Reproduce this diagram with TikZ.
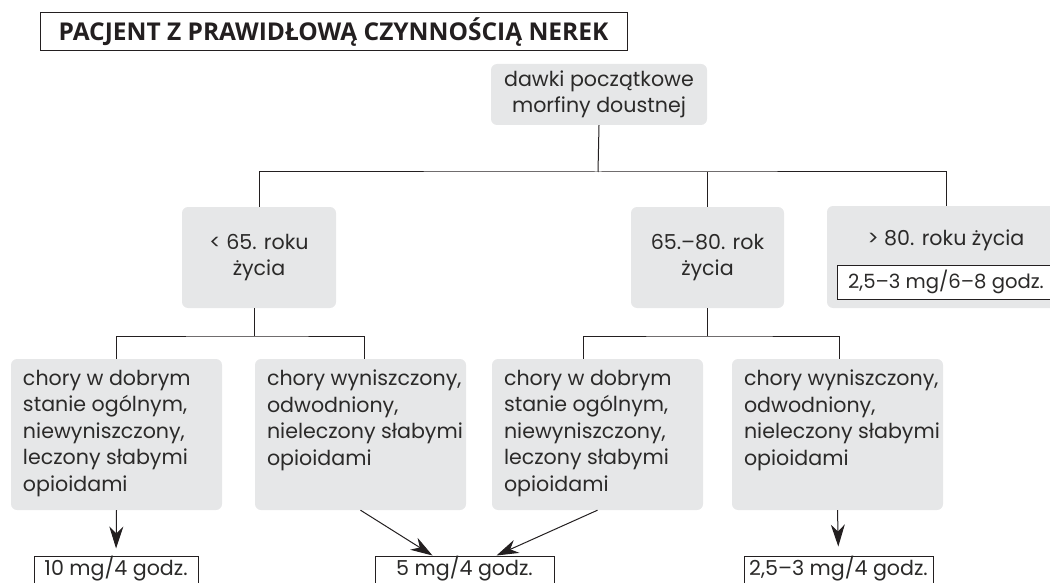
\documentclass[tikz,border=0pt]{standalone}
\usepackage{fontspec}
\setmainfont{Poppins}
\newfontfamily\tytulfont{Open Sans}
\usetikzlibrary{arrows.meta}
\definecolor{szary}{HTML}{E6E7E8}
\definecolor{tekst}{HTML}{2B2A29}
\definecolor{kreska}{HTML}{231F20}
\newcommand{\opis}{\fontsize{20.6}{26.5}\selectfont}

\begin{document}
\begin{tikzpicture}[x=1pt,y=-1pt,
    pole/.style={fill=szary, rounded corners=6pt, text=tekst, font=\opis, align=center, inner sep=0pt},
    tresc/.style={anchor=north west, align=left, text=tekst, font=\opis, inner sep=0pt},
    dawka/.style={draw=kreska, fill=white, line width=1pt, text=tekst, font=\opis, inner sep=0pt},
    linia/.style={draw=kreska, line width=1pt},
    strzalka/.style={linia, -{Stealth[length=22pt,width=14pt,inset=7pt]}}]
    \useasboundingbox (0,0) rectangle (1050,583);
    \clip (0,0) rectangle (1050,583);
    % naglowek
    \node[draw=kreska, line width=1pt, minimum width=587pt, minimum height=38pt, inner sep=0pt,
          text=kreska, font=\tytulfont\bfseries\fontsize{24.5}{28}\selectfont] (tytul) at (333.5,32)
          {PACJENT Z PRAWIDŁOWĄ CZYNNOŚCIĄ NEREK};
    % poziom 1 i 2
    \node[pole, minimum width=216pt, minimum height=61pt] (start) at (599,94.5) {dawki początkowe\\morfiny doustnej};
    \node[pole, minimum width=154pt, minimum height=101pt] (m65) at (259,257.5) {< 65. roku\\życia};
    \node[pole, minimum width=153pt, minimum height=101pt] (m80) at (707.5,257.5) {65.–80. rok\\życia};
    \node[pole, minimum width=238pt, minimum height=102pt] (p80) at (946,257) {};
    \node[text=tekst, font=\opis, inner sep=0pt] (p80t) at (946,240) {> 80. roku życia};
    \node[dawka, minimum width=218pt, minimum height=34pt, font=\fontsize{19.6}{24}\selectfont] (d68) at (946,282) {2,5–3 mg/6–8 godz.};
    % poziom 3
    \node[pole, minimum width=211pt, minimum height=151pt] (b1) at (116.5,434.5) {};
    \node[pole, minimum width=211pt, minimum height=151pt] (b2) at (360.5,434.5) {};
    \node[pole, minimum width=211pt, minimum height=151pt] (b3) at (597.5,434.5) {};
    \node[pole, minimum width=211pt, minimum height=151pt] (b4) at (837.5,434.5) {};
    \node[tresc] (t1) at ([xshift=12pt,yshift=-11pt]b1.north west) {chory w dobrym\\stanie ogólnym,\\niewyniszczony,\\leczony słabymi\\opioidami};
    \node[tresc] (t2) at ([xshift=12pt,yshift=-11pt]b2.north west) {chory wyniszczony,\\odwodniony,\\nieleczony słabymi\\opioidami};
    \node[tresc] (t3) at ([xshift=12pt,yshift=-11pt]b3.north west) {chory w dobrym\\stanie ogólnym,\\niewyniszczony,\\leczony słabymi\\opioidami};
    \node[tresc] (t4) at ([xshift=12pt,yshift=-11pt]b4.north west) {chory wyniszczony,\\odwodniony,\\nieleczony słabymi\\opioidami};
    % dawki
    \node[dawka, minimum width=164pt, minimum height=32pt, text height=15pt, text depth=9pt] (d10) at (116,572) {10 mg/4 godz.};
    \node[dawka, minimum width=179pt, minimum height=32pt, text height=15pt, text depth=9pt] (d5) at (464.5,572) {5 mg/4 godz.};
    \node[dawka, minimum width=189pt, minimum height=32pt, text height=15pt, text depth=9pt] (d25) at (838.5,572) {2,5–3 mg/4 godz.};
    % linie
    \coordinate (r1) at (598,172);
    \draw[linia] (start.south) -- (r1);
    \draw[linia] (m65.north) |- (r1) -| (p80.north);
    \draw[linia] (m80.north) -- (m80.north |- r1);
    \coordinate (r2) at (254,336);
    \draw[linia] (m65.south -| r2) -- (r2);
    \draw[linia] (b1.north) |- (r2) -| ([xshift=3.5pt]b2.north);
    \coordinate (r3) at (707.5,336);
    \draw[linia] (m80.south) -- (r3);
    \draw[linia] ([xshift=-14.5pt]b3.north) |- (r3) -| ([xshift=1.5pt]b4.north);
    % strzalki
    \draw[strzalka, shorten >=7pt] (b1.south) -- (d10.north);
    \draw[strzalka] (b2.south) -- ([xshift=-32pt]d5.north);
    \draw[strzalka] (b3.south) -- ([xshift=32pt]d5.north);
    \draw[strzalka, shorten >=9pt] (b4.south) -- (d25.north);
\end{tikzpicture}
\end{document}
